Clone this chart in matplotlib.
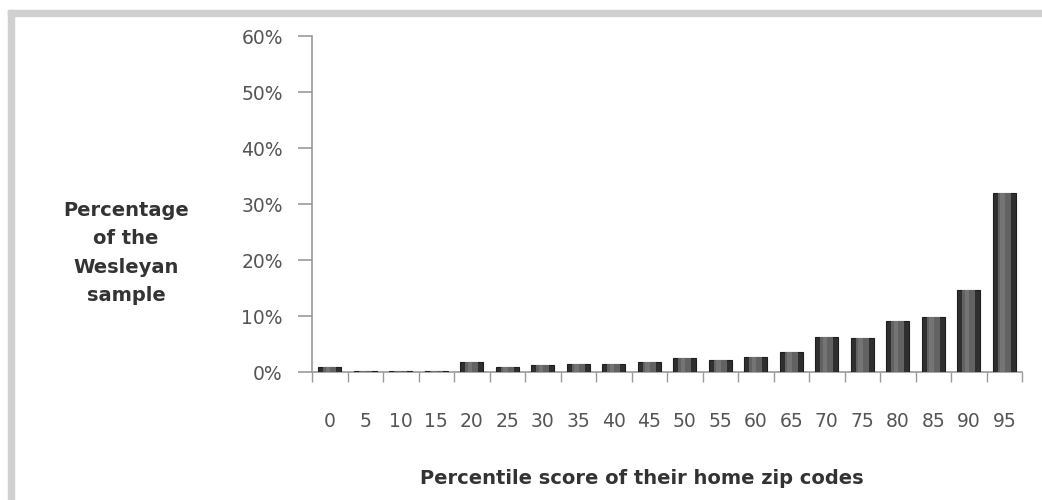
import matplotlib
matplotlib.use("Agg")
import matplotlib.pyplot as plt
from matplotlib.patches import Rectangle
import numpy as np

categories = ["0", "5", "10", "15", "20", "25", "30", "35", "40", "45",
              "50", "55", "60", "65", "70", "75", "80", "85", "90", "95"]
values = [0.9, 0.1, 0.1, 0.1, 1.8, 0.9, 1.2, 1.4, 1.4, 1.7,
          2.5, 2.2, 2.7, 3.5, 6.3, 6.0, 9.1, 9.9, 14.7, 31.9]
y_ticks = [0, 10, 20, 30, 40, 50, 60]
y_tick_labels = ["0%", "10%", "20%", "30%", "40%", "50%", "60%"]

plt.rcParams['font.family'] = ['DejaVu Sans']

fig = plt.figure(figsize=(10.42, 5.0), dpi=100)
ax = fig.add_axes([312/1042, 1-372/500, (1022-312)/1042, (372-36)/500])

x = np.arange(len(categories))
ax.bar(x, values, width=0.64, color="#2f2f2f", edgecolor="#1e1e1e", linewidth=0.8, zorder=3)
ax.bar(x, values, width=0.36, color="#626262", linewidth=0, zorder=4)
ax.bar(x - 0.05, values, width=0.12, color="#747474", linewidth=0, zorder=5)

ax.set_xlim(-0.5, len(categories) - 0.5)
ax.set_ylim(0, 60)
ax.set_yticks(y_ticks)
ax.set_yticklabels(y_tick_labels)
ax.set_xticks(x)
ax.set_xticklabels(categories)
ax.set_xticks(np.arange(-0.5, len(categories), 1.0), minor=True)

for s in ["top", "right"]:
    ax.spines[s].set_visible(False)
for s in ["left", "bottom"]:
    ax.spines[s].set_color("#9a9a9a")
    ax.spines[s].set_linewidth(1.2)

ax.tick_params(axis="y", length=10, width=1.2, color="#9a9a9a", pad=11,
               labelsize=13.5, labelcolor="#555555")
ax.tick_params(axis="x", which="major", length=0, pad=29,
               labelsize=13.5, labelcolor="#555555")
ax.tick_params(axis="x", which="minor", length=7, width=1.0, color="#9a9a9a")

fig.text(126/1042, 1-253/500, "Percentage\nof the\nWesleyan\nsample",
         ha="center", va="center", fontsize=14, fontweight="bold",
         color="#333333", linespacing=1.62)
fig.text(642/1042, 1-478/500, "Percentile score of their home zip codes",
         ha="center", va="center", fontsize=14, fontweight="bold", color="#333333")

# gray frame bands
fig.patches.append(Rectangle((8/1042, 1-16/500), 1, 6/500, transform=fig.transFigure,
                             color="#d0d0d0", zorder=0))
fig.patches.append(Rectangle((8/1042, 0), 6/1042, 1-10/500, transform=fig.transFigure,
                             color="#d0d0d0", zorder=0))

fig.savefig("out.png", dpi=100)
